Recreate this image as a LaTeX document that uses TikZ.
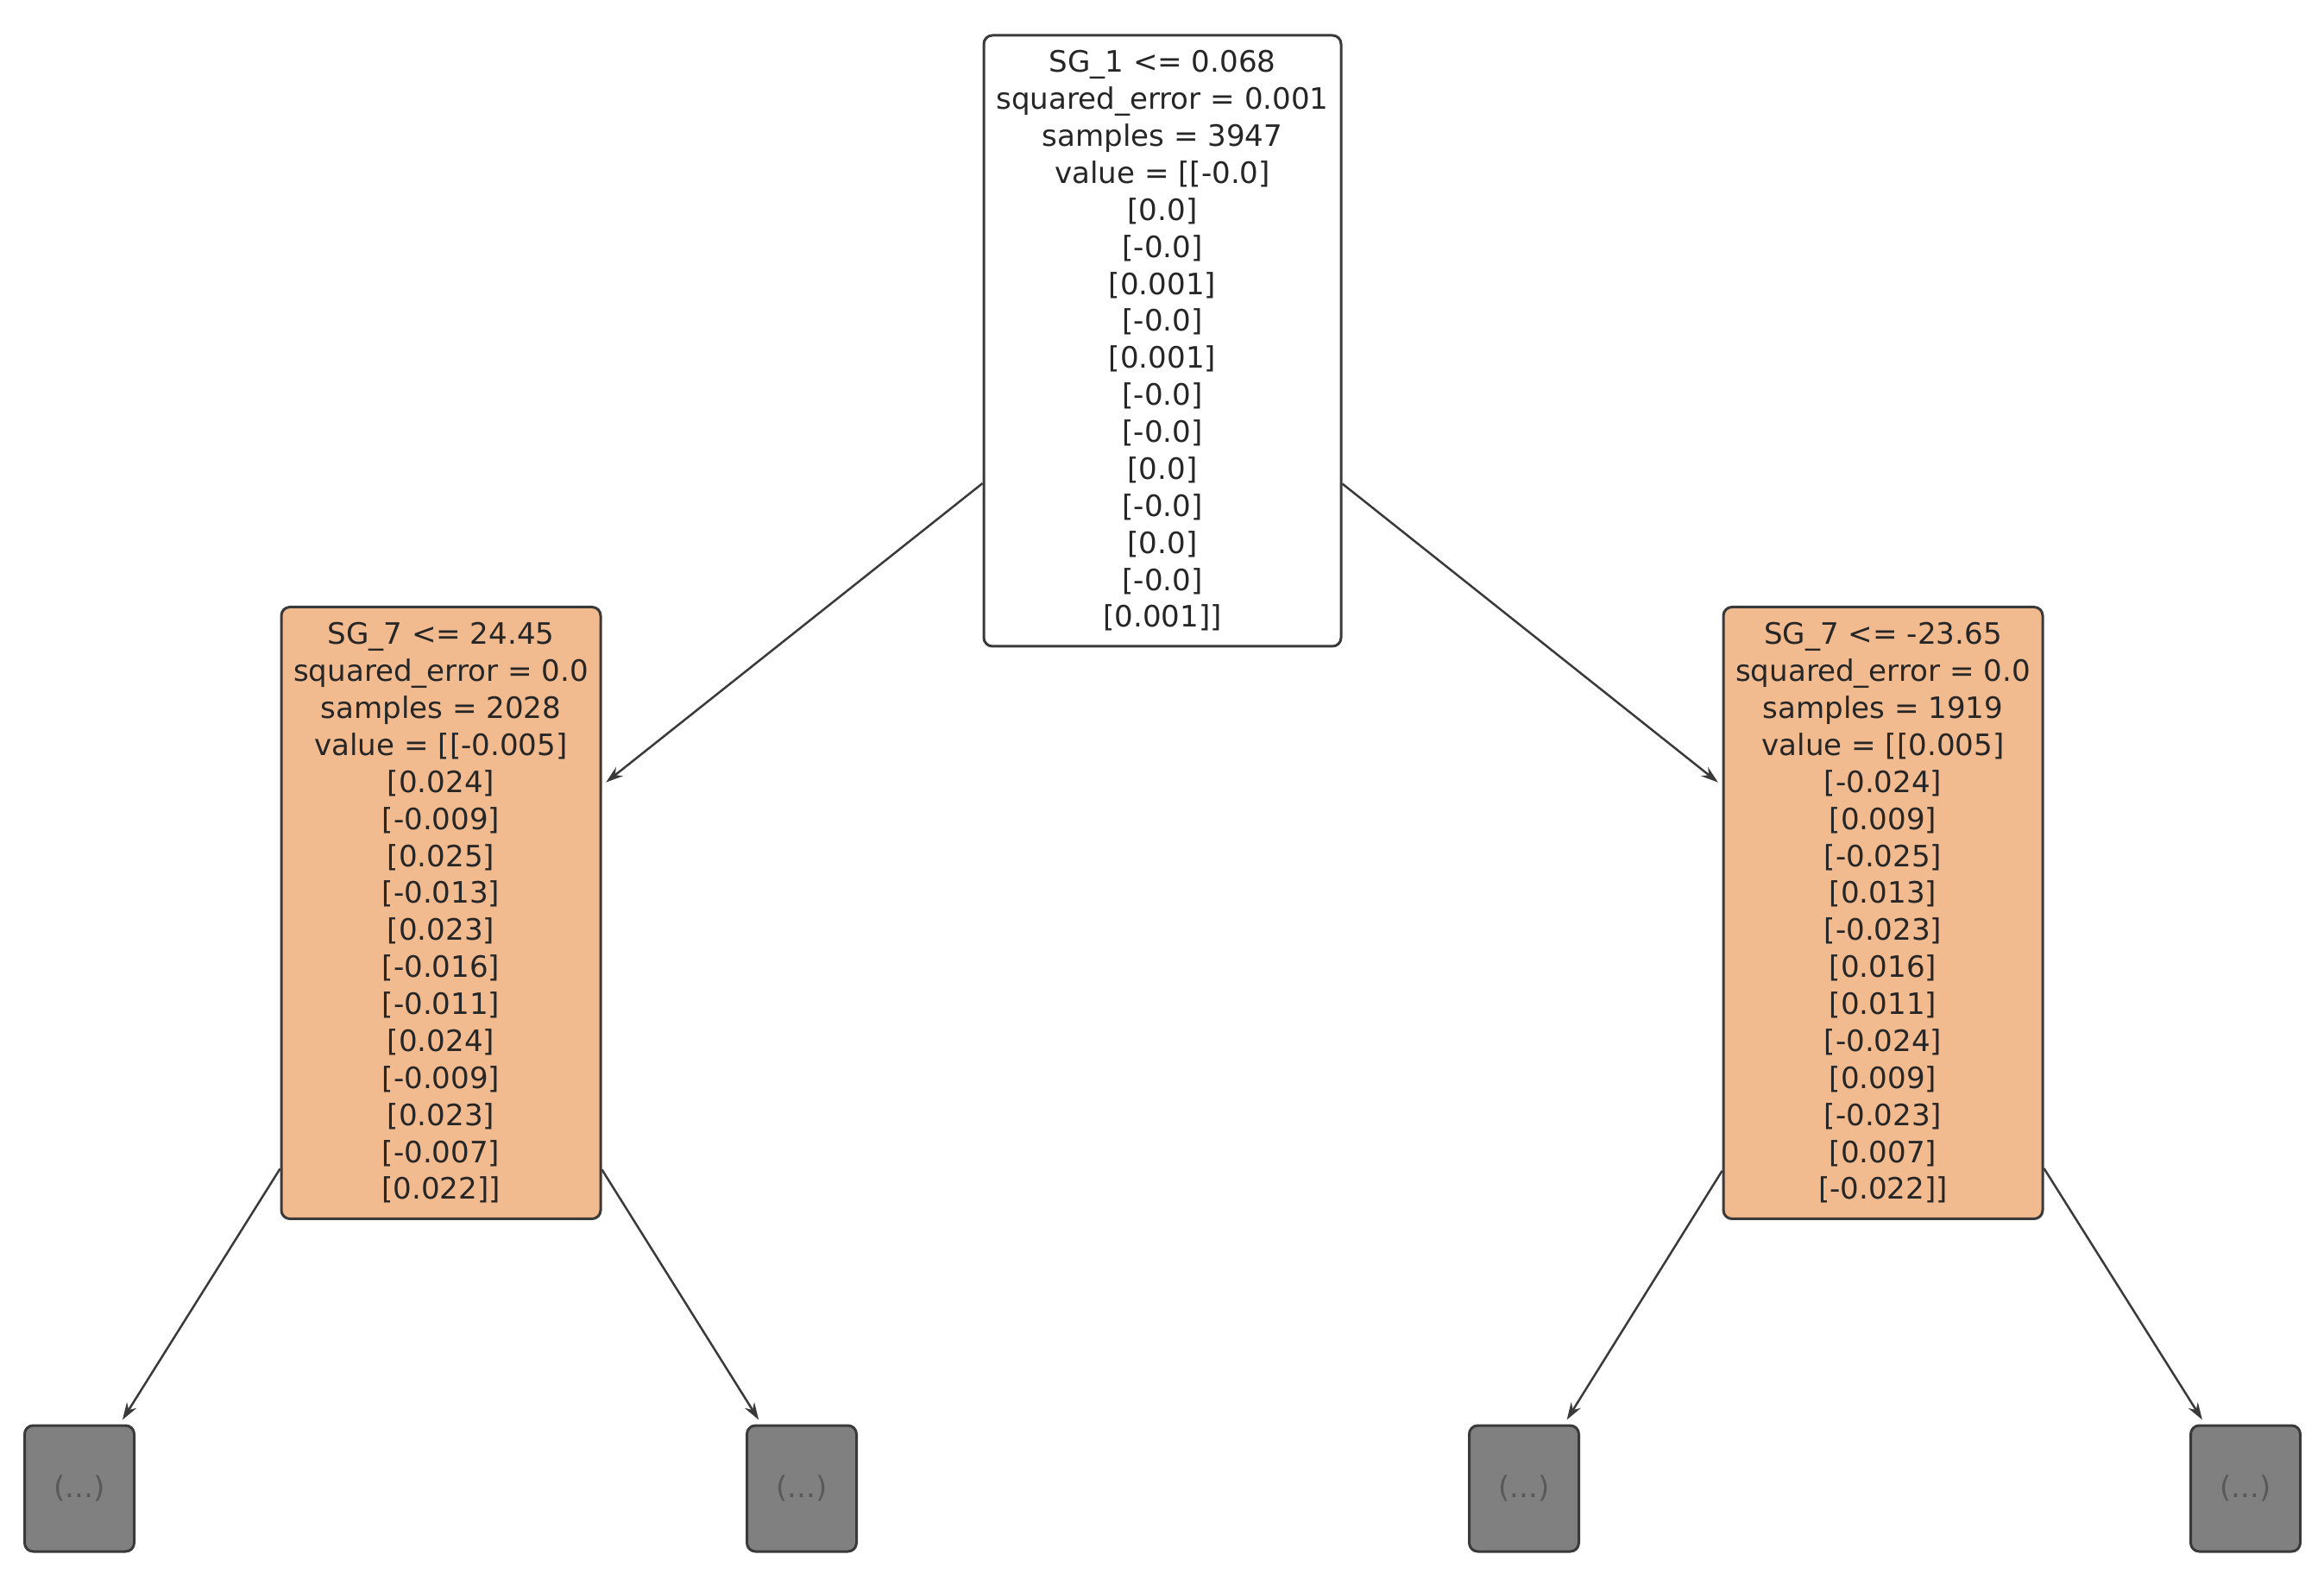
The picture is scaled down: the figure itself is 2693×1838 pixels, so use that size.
\documentclass[tikz,border=0pt]{standalone}
\usepackage{fontspec}
\setmainfont{DejaVu Sans}
\usetikzlibrary{arrows.meta, positioning}
\definecolor{splitorange}{HTML}{F2BA8F}
\definecolor{leafgray}{HTML}{808080}
\definecolor{edgegray}{HTML}{3A3A3A}
\tikzset{
	treenode/.style={
			rectangle,
			rounded corners=1mm,
			draw=edgegray,
			line width=0.3mm,
			align=center,
			inner sep=0pt,
			text=black!85,
			font=\fontsize{9.7}{12.2}\selectfont
		},
	rootnode/.style={
			treenode,
			fill=white,
			minimum width=41.4mm,
			minimum height=70.8mm
		},
	splitnode/.style={
			treenode,
			fill=splitorange,
			minimum width=37mm,
			minimum height=70.9mm
		},
	leafnode/.style={
			treenode,
			fill=leafgray,
			text=black!65,
			minimum width=12.7mm,
			minimum height=14.6mm
		},
	treearrow/.style={
			draw=edgegray,
			line width=0.25mm,
			-{Stealth[length=2mm, width=1.3mm]},
			shorten >=0.6mm
		}
}

\begin{document}
\begin{tikzpicture}[x=0.1mm, y=-0.1mm]
\useasboundingbox (0,0) rectangle (2693,1838);

\node[rootnode] (root) at (1347,395) {SG\_1 <= 0.068\\squared\_error = 0.001\\samples = 3947\\value = [[-0.0]\\{}[0.0]\\{}[-0.0]\\{}[0.001]\\{}[-0.0]\\{}[0.001]\\{}[-0.0]\\{}[-0.0]\\{}[0.0]\\{}[-0.0]\\{}[0.0]\\{}[-0.0]\\{}[0.001]]};
\node[splitnode] (sgL) at (511,1058) {SG\_7 <= 24.45\\squared\_error = 0.0\\samples = 2028\\value = [[-0.005]\\{}[0.024]\\{}[-0.009]\\{}[0.025]\\{}[-0.013]\\{}[0.023]\\{}[-0.016]\\{}[-0.011]\\{}[0.024]\\{}[-0.009]\\{}[0.023]\\{}[-0.007]\\{}[0.022]]};
\node[splitnode] (sgR) at (2182,1058) {SG\_7 <= -23.65\\squared\_error = 0.0\\samples = 1919\\value = [[0.005]\\{}[-0.024]\\{}[0.009]\\{}[-0.025]\\{}[0.013]\\{}[-0.023]\\{}[0.016]\\{}[0.011]\\{}[-0.024]\\{}[0.009]\\{}[-0.023]\\{}[0.007]\\{}[-0.022]]};

\node[leafnode] (leafLL) at (92,1725) {(...)};
\node[leafnode] (leafLR) at (929,1725) {(...)};
\node[leafnode] (leafRL) at (1766,1725) {(...)};
\node[leafnode] (leafRR) at (2602,1725) {(...)};

\draw[treearrow] (root) -- (sgL);
\draw[treearrow] (root) -- (sgR);
\draw[treearrow] (sgL) -- (leafLL);
\draw[treearrow] (sgL) -- (leafLR);
\draw[treearrow] (sgR) -- (leafRL);
\draw[treearrow] (sgR) -- (leafRR);

\end{tikzpicture}
\end{document}
